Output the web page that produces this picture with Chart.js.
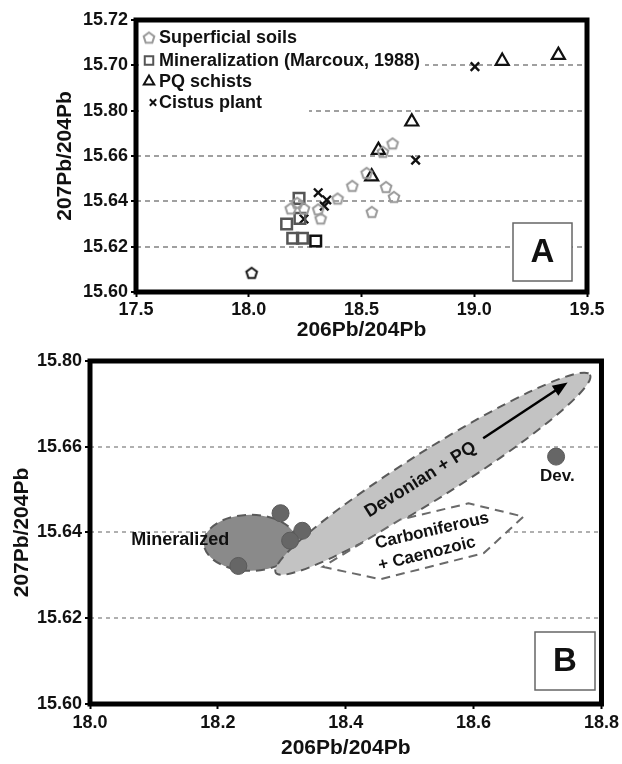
<!DOCTYPE html>
<html>
<head>
<meta charset="utf-8">
<script src="https://cdn.jsdelivr.net/npm/chart.js@4.4.1/dist/chart.umd.min.js"></script>
<style>
  body { margin: 0; background: #fff; }
  #wrap { position: relative; width: 622px; height: 764px; }
  canvas { position: absolute; left: 0; }
</style>
</head>
<body>
<div id="wrap">
  <canvas id="chartA" width="622" height="345" style="top:0"></canvas>
  <canvas id="chartB" width="622" height="419" style="top:345px"></canvas>
</div>
<script>
// ---- panel A data ----
const soilsX = [18.013, 18.186, 18.245, 18.215, 18.308, 18.319, 18.394, 18.459, 18.523, 18.546, 18.595, 18.638, 18.609, 18.644];
const soilsY = [15.6085, 15.6369, 15.6369, 15.6394, 15.6365, 15.6325, 15.6413, 15.6469, 15.6526, 15.6354, 15.6619, 15.6656, 15.6464, 15.642];
const mineralX = [18.223, 18.168, 18.195, 18.238, 18.227, 18.297];
const mineralY = [15.6413, 15.630, 15.6237, 15.6237, 15.6325, 15.6225];
const schistX = [19.373, 19.124, 18.723, 18.575, 18.545];
const schistY = [15.7045, 15.7019, 15.6751, 15.6626, 15.6509];
const cistusX = [19.003, 18.740, 18.308, 18.346, 18.335, 18.245];
const cistusY = [15.6994, 15.6582, 15.6438, 15.6406, 15.6379, 15.6322];
const legendA = ["Superficial soils", "Mineralization (Marcoux, 1988)", "PQ schists", "Cistus plant"];
const yTicksA = ["15.60", "15.62", "15.64", "15.66", "15.80", "15.70", "15.72"];

// ---- panel B data ----
const sampleX = [18.298, 18.332, 18.313, 18.232];
const sampleY = [15.6445, 15.6404, 15.6381, 15.6322];
const devX = [18.729];
const devY = [15.6577];
const yTicksB = ["15.60", "15.62", "15.64", "15.66", "15.80"];
// fields (data units)
const mineralizedField = { cx: 18.251, cy: 15.6376, rx: 0.073, ry: 0.00654 };
const devonianField = { x1: 18.2905, y1: 15.6306, x2: 18.782, y2: 15.6768 };
const carbX = [18.364, 18.454, 18.616, 18.678, 18.592, 18.485];
const carbY = [15.6320, 15.6291, 15.6352, 15.6437, 15.6468, 15.6430];
const trendArrow = { x1: 18.615, y1: 15.6620, x2: 18.747, y2: 15.6750 };

const toPoints = (xs, ys) => xs.map((v, i) => ({ x: v, y: ys[i] }));

Chart.defaults.font.family = "'Liberation Sans', Arial, sans-serif";
Chart.defaults.font.weight = "bold";
Chart.defaults.color = "#111";

function pentagon(color) {
  const c = document.createElement("canvas");
  c.width = 16; c.height = 16;
  const g = c.getContext("2d");
  g.beginPath();
  for (let i = 0; i < 5; i++) {
    const a = -Math.PI / 2 + i * 2 * Math.PI / 5;
    const px = 8 + 5.6 * Math.cos(a), py = 8.6 + 5.6 * Math.sin(a);
    if (i) g.lineTo(px, py); else g.moveTo(px, py);
  }
  g.closePath();
  g.strokeStyle = color;
  g.lineWidth = 2;
  g.stroke();
  return c;
}
const pentGrey = pentagon("#9a9a9a");
const pentDark = pentagon("#1a1a1a");

function frame(chart) {
  const { ctx, chartArea: a } = chart;
  ctx.save();
  ctx.strokeStyle = "#000";
  ctx.lineWidth = 5;
  ctx.strokeRect(a.left, a.top, a.right - a.left, a.bottom - a.top);
  ctx.restore();
}

function letterBox(ctx, x, y, w, h, txt) {
  ctx.save();
  ctx.fillStyle = "#fff";
  ctx.fillRect(x, y, w, h);
  ctx.strokeStyle = "#666";
  ctx.lineWidth = 1.5;
  ctx.strokeRect(x, y, w, h);
  ctx.fillStyle = "#111";
  ctx.font = "bold 33px 'Liberation Sans', Arial, sans-serif";
  ctx.textAlign = "center";
  ctx.textBaseline = "middle";
  ctx.fillText(txt, x + w / 2, y + h / 2 + 1);
  ctx.restore();
}

const axisFont = { size: 18, weight: "bold" };
const titleFont = { size: 21, weight: "bold" };

// ---- chart A ----
const plotA = {
  id: "plotA",
  beforeDatasetsDraw(chart) {
    const ctx = chart.ctx;
    ctx.save();
    ctx.fillStyle = "#fff";
    ctx.fillRect(139, 23, 286, 49);
    ctx.fillRect(139, 72, 170, 46);
    ctx.restore();
  },
  afterDatasetsDraw(chart) {
    const ctx = chart.ctx;
    const rows = [37.5, 60.5, 81.5, 102.5];
    const ds = chart.data.datasets;
    ctx.save();
    ctx.font = "bold 18px 'Liberation Sans', Arial, sans-serif";
    ctx.textBaseline = "middle";
    legendA.forEach((label, i) => {
      const d = ds[i];
      ctx.strokeStyle = i === 1 ? "#555" : (i === 0 ? "#9a9a9a" : "#111");
      ctx.fillStyle = "rgba(0,0,0,0)";
      ctx.lineWidth = 2;
      const style = i === 0 ? pentGrey : d.pointStyle;
      Chart.helpers.drawPoint(ctx, { pointStyle: style, radius: i === 3 ? 4.5 : 6, borderWidth: 2, rotation: 0 }, i === 3 ? 153 : 149, rows[i]);
      ctx.fillStyle = "#111";
      ctx.fillText(label, 159, rows[i] + 1);
    });
    ctx.restore();
    letterBox(ctx, 513, 223, 59, 58, "A");
  },
  afterDraw: frame
};

new Chart(document.getElementById("chartA"), {
  type: "scatter",
  data: {
    datasets: [
      {
        label: legendA[0],
        data: toPoints(soilsX, soilsY),
        pointStyle: ctx => ctx.dataIndex === 0 ? pentDark : pentGrey,
        pointRadius: 6
      },
      {
        label: legendA[1],
        data: toPoints(mineralX, mineralY),
        pointStyle: "rect",
        pointRadius: 7.5,
        backgroundColor: "rgba(0,0,0,0)",
        borderColor: ctx => ctx.dataIndex === 5 ? "#111" : "#555",
        borderWidth: 2.5
      },
      {
        label: legendA[2],
        data: toPoints(schistX, schistY),
        pointStyle: "triangle",
        pointRadius: 7.5,
        backgroundColor: "rgba(0,0,0,0)",
        borderColor: "#111",
        borderWidth: 2.2
      },
      {
        label: legendA[3],
        data: toPoints(cistusX, cistusY),
        pointStyle: "crossRot",
        pointRadius: 6,
        borderColor: "#111",
        borderWidth: 2.4
      }
    ]
  },
  options: {
    responsive: false,
    animation: false,
    devicePixelRatio: 1,
    layout: { padding: { top: 20, right: 35, left: 0, bottom: 0 } },
    plugins: { legend: { display: false }, tooltip: { enabled: false } },
    scales: {
      x: {
        type: "linear",
        min: 17.5, max: 19.5,
        afterFit: s => { s.height = 53; },
        ticks: { stepSize: 0.5, font: axisFont, color: "#111", padding: 2, callback: v => v.toFixed(1) },
        grid: { drawOnChartArea: false, drawTicks: true, tickLength: 5, tickColor: "#000", tickWidth: 2 },
        border: { display: false },
        title: { display: true, text: "206Pb/204Pb", font: titleFont, color: "#111", padding: { top: 0, bottom: 2 } }
      },
      y: {
        min: 15.60, max: 15.72,
        afterFit: s => { s.width = 136; },
        ticks: { stepSize: 0.02, font: axisFont, color: "#111", padding: 3, callback: (v, i) => yTicksA[i] },
        grid: {
          color: "#a0a0a0", lineWidth: 2,
          drawTicks: true, tickLength: 5, tickColor: "#000", tickWidth: 2, tickBorderDash: []
        },
        border: { display: false, dash: [5, 4] },
        title: { display: true, text: "207Pb/204Pb", font: titleFont, color: "#111", padding: { top: 53, bottom: 0 } }
      }
    }
  },
  plugins: [plotA]
});

// ---- chart B ----
const plotB = {
  id: "plotB",
  beforeDatasetsDraw(chart) {
    const { ctx, scales: { x, y } } = chart;
    ctx.save();
    ctx.lineWidth = 2;
    ctx.setLineDash([9, 6]);
    ctx.strokeStyle = "#5a5a5a";

    // mineralized field
    const m = mineralizedField;
    const mcx = x.getPixelForValue(m.cx), mcy = y.getPixelForValue(m.cy);
    const mrx = x.getPixelForValue(m.cx + m.rx) - mcx;
    const mry = mcy - y.getPixelForValue(m.cy + m.ry);
    ctx.beginPath();
    ctx.ellipse(mcx, mcy, mrx, mry, 0, 0, 2 * Math.PI);
    ctx.fillStyle = "#8a8a8a";
    ctx.fill();
    ctx.stroke();

    // devonian + PQ field
    const d = devonianField;
    const p1x = x.getPixelForValue(d.x1), p1y = y.getPixelForValue(d.y1);
    const p2x = x.getPixelForValue(d.x2), p2y = y.getPixelForValue(d.y2);
    const len = Math.hypot(p2x - p1x, p2y - p1y) / 2;
    const ang = Math.atan2(p2y - p1y, p2x - p1x);
    ctx.beginPath();
    ctx.ellipse((p1x + p2x) / 2, (p1y + p2y) / 2, len, 24, ang, 0, 2 * Math.PI);
    ctx.fillStyle = "#c3c3c3";
    ctx.fill();
    ctx.stroke();

    // carboniferous + caenozoic field
    ctx.beginPath();
    carbX.forEach((v, i) => {
      const px = x.getPixelForValue(v), py = y.getPixelForValue(carbY[i]);
      if (i) ctx.lineTo(px, py); else ctx.moveTo(px, py);
    });
    ctx.closePath();
    ctx.fillStyle = "#fff";
    ctx.fill();
    ctx.strokeStyle = "#6a6a6a";
    ctx.stroke();
    ctx.restore();
  },
  afterDatasetsDraw(chart) {
    const { ctx, scales: { x, y } } = chart;
    const font = s => `bold ${s}px 'Liberation Sans', Arial, sans-serif`;
    function label(txt, vx, vy, deg, size) {
      ctx.save();
      ctx.translate(x.getPixelForValue(vx), y.getPixelForValue(vy));
      ctx.rotate(deg * Math.PI / 180);
      ctx.font = font(size);
      ctx.fillStyle = "#111";
      ctx.textAlign = "center";
      ctx.textBaseline = "middle";
      ctx.fillText(txt, 0, 0);
      ctx.restore();
    }
    label("Mineralized", 18.141, 15.6383, 0, 18);
    label("Devonian + PQ", 18.517, 15.6523, -32, 18);
    label("Carboniferous", 18.535, 15.6404, -13, 17);
    label("+ Caenozoic", 18.527, 15.6350, -14, 17);
    label("Dev.", 18.731, 15.6531, 0, 17);

    // trend arrow
    const a = trendArrow;
    const ax1 = x.getPixelForValue(a.x1), ay1 = y.getPixelForValue(a.y1);
    const ax2 = x.getPixelForValue(a.x2), ay2 = y.getPixelForValue(a.y2);
    const t = Math.atan2(ay2 - ay1, ax2 - ax1);
    ctx.save();
    ctx.strokeStyle = "#000";
    ctx.fillStyle = "#000";
    ctx.lineWidth = 2.5;
    ctx.beginPath();
    ctx.moveTo(ax1, ay1);
    ctx.lineTo(ax2 - 10 * Math.cos(t), ay2 - 10 * Math.sin(t));
    ctx.stroke();
    ctx.beginPath();
    ctx.moveTo(ax2, ay2);
    ctx.lineTo(ax2 - 15 * Math.cos(t) + 6 * Math.sin(t), ay2 - 15 * Math.sin(t) - 6 * Math.cos(t));
    ctx.lineTo(ax2 - 15 * Math.cos(t) - 6 * Math.sin(t), ay2 - 15 * Math.sin(t) + 6 * Math.cos(t));
    ctx.closePath();
    ctx.fill();
    ctx.restore();

    letterBox(ctx, 535, 287, 60, 58, "B");
  },
  afterDraw: frame
};

const dotStyle = {
  pointStyle: "circle",
  pointRadius: 8.5,
  backgroundColor: "#666",
  borderColor: "#5a5a5a",
  borderWidth: 1
};

new Chart(document.getElementById("chartB"), {
  type: "scatter",
  data: {
    datasets: [
      Object.assign({ label: "Mineralized", data: toPoints(sampleX, sampleY) }, dotStyle),
      Object.assign({ label: "Dev.", data: toPoints(devX, devY) }, dotStyle)
    ]
  },
  options: {
    responsive: false,
    animation: false,
    devicePixelRatio: 1,
    layout: { padding: { top: 16, right: 16, left: 0, bottom: 0 } },
    plugins: { legend: { display: false }, tooltip: { enabled: false } },
    scales: {
      x: {
        type: "linear",
        min: 18.0, max: 18.8,
        afterFit: s => { s.height = 60; },
        ticks: { stepSize: 0.2, font: axisFont, color: "#111", padding: 3, callback: v => v.toFixed(1) },
        grid: { drawOnChartArea: false, drawTicks: true, tickLength: 5, tickColor: "#000", tickWidth: 2 },
        border: { display: false },
        title: { display: true, text: "206Pb/204Pb", font: titleFont, color: "#111", padding: { top: 0, bottom: 3 } }
      },
      y: {
        min: 15.60, max: 15.68,
        afterFit: s => { s.width = 90; },
        ticks: { stepSize: 0.02, font: axisFont, color: "#111", padding: 3, callback: (v, i) => yTicksB[i] },
        grid: {
          color: "#b0b0b0", lineWidth: 2,
          drawTicks: true, tickLength: 5, tickColor: "#000", tickWidth: 2, tickBorderDash: []
        },
        border: { display: false, dash: [4, 4] },
        title: { display: true, text: "207Pb/204Pb", font: titleFont, color: "#111", padding: { top: 10, bottom: 0 } }
      }
    }
  },
  plugins: [plotB]
});
</script>
</body>
</html>
